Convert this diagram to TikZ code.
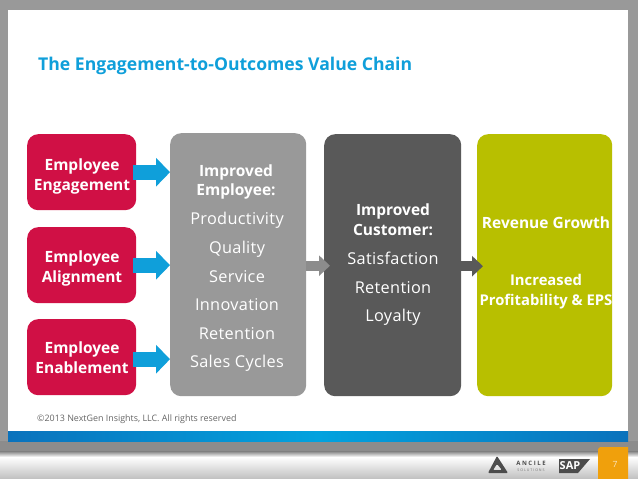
\documentclass[tikz,border=0pt]{standalone}
\usepackage{fontspec}
\setmainfont{Open Sans}
\usetikzlibrary{arrows.meta,calc}
\definecolor{cred}{HTML}{D01045}
\definecolor{cblue}{HTML}{0F9FDA}
\definecolor{cgray}{HTML}{999999}
\definecolor{cdark}{HTML}{595959}
\definecolor{colive}{HTML}{B8BF00}
\definecolor{corange}{HTML}{F0A00C}
\definecolor{bandl}{HTML}{0A72BC}
\definecolor{bandm}{HTML}{02A2DE}
\tikzset{
  x=1pt,y=-1pt,
  box/.style={rounded corners=11pt,minimum width=#1,inner sep=0pt,anchor=north west},
  redbox/.style={box=109pt,fill=cred,minimum height=76pt},
  bigbox/.style={box=136pt,minimum height=263pt},
  line/.style={text=white,inner sep=0pt,anchor=base,font=\fontsize{16.3}{18}\selectfont\addfontfeature{LetterSpace=2}},
  head/.style={text=white,inner sep=0pt,anchor=base,font=\fontsize{15.5}{20}\selectfont\bfseries},
  fatarrow/.style={draw=cblue,line width=15pt,-{Triangle[length=14pt,width=28pt]}},
  thinarrow/.style={draw=#1,line width=10pt,-{Triangle[length=11pt,width=20pt]}},
}
\begin{document}
\begin{tikzpicture}
\useasboundingbox (0,0) rectangle (638,479);
% backdrop
\fill[cgray] (0,0) rectangle (638,451);
\fill[black!45] (0,441) rectangle (638,451);
\fill[white] (8,10) rectangle (628,431);
\shade[left color=bandl,right color=bandl,middle color=bandm] (8,431) rectangle (628,441);
\shade[top color=black!50,bottom color=white] (0,451) rectangle (638,457);
\shade[top color=white,bottom color=black!25] (0,457) rectangle (638,479);
% title
\node[anchor=base west,inner sep=0pt,text=cblue,font=\fontsize{17.6}{20}\selectfont\bfseries] (title) at (38,70) {The Engagement-to-Outcomes Value Chain};
% boxes
\node[redbox] (e1) at (27,134) {};
\node[redbox] (e2) at (27,227) {};
\node[redbox] (e3) at (27,319) {};
\node[bigbox,fill=cgray] (g) at (170,133) {};
\node[bigbox,fill=cdark,minimum width=137pt,minimum height=262pt] (d) at (324,134) {};
\node[bigbox,fill=colive,minimum width=135pt,minimum height=262pt] (o) at (477,134) {};
% red box text
\node[head] (e1a) at (82,170) {Employee};
\node[head] (e1b) at (82,190) {Engagement};
\node[head] (e2a) at (82,262) {Employee};
\node[head] (e2b) at (82,282) {Alignment};
\node[head] (e3a) at (82,353) {Employee};
\node[head] (e3b) at (82,373) {Enablement};
% gray box text
\node[head] (g0a) at (236,176) {Improved};
\node[head] (g0b) at (236,195) {Employee:};
\node[line] (g1) at (237,224) {Productivity};
\node[line] (g2) at (237,253) {Quality};
\node[line] (g3) at (237,282) {Service};
\node[line] (g4) at (237,310) {Innovation};
\node[line] (g5) at (237,339) {Retention};
\node[line] (g6) at (237,367) {Sales Cycles};
% dark box text
\node[head] (d0a) at (393,215) {Improved};
\node[head] (d0b) at (393,235) {Customer:};
\node[line] (d1) at (393,264) {Satisfaction};
\node[line] (d2) at (393,293) {Retention};
\node[line] (d3) at (393,321) {Loyalty};
% olive box text
\node[head] (o1) at (546,228) {Revenue Growth};
\node[head,font=\fontsize{14.8}{20}\selectfont\bfseries] (o2a) at (546,285) {Increased};
\node[head,font=\fontsize{14.8}{20}\selectfont\bfseries] (o2b) at (546,305) {Profitability \& EPS};
% connectors
\draw[fatarrow] ([xshift=-3pt]e1.east) -- (e1.east -| g.west);
\draw[fatarrow] ([xshift=-3pt]e2.east) -- (e2.east -| g.west);
\draw[fatarrow] ([xshift=-3pt,yshift=-2pt]e3.east) -- ([yshift=-2pt]e3.east -| g.west);
\draw[thinarrow=black!45] ([yshift=-1pt]g.east) -- ([xshift=6pt,yshift=-1pt]g.east -| d.west);
\draw[thinarrow=cdark] ([yshift=-1pt]d.east) -- ([xshift=6pt,yshift=-1pt]d.east -| o.west);
% footer
\node[anchor=base west,inner sep=0pt,text=black!60,font=\fontsize{8.9}{10}\selectfont] (copy) at (37,421) {©2013 NextGen Insights, LLC. All rights reserved};
\fill[corange] (600,447) -- (628,447) -- (628,479) -- (598,479) -- (598,449) -- cycle;
\node[text=white!75!corange,inner sep=0pt,font=\fontsize{8.5}{10}\selectfont] (page) at (615,464) {7};
% logos
\fill[black!70,even odd rule,rounded corners=1pt] (497,456) -- (508,473) -- (488,473) -- cycle (497,464) -- (502,470) -- (493,470) -- cycle;
\node[inner sep=0pt,text=black!70,font=\fontsize{6}{6}\selectfont\bfseries] (anc) at (531,463) {A N C I L E};
\node[inner sep=0pt,text=black!55,font=\fontsize{3.6}{4}\selectfont] (sol) at (531,470) {S O L U T I O N S};
\fill[black!70] (559,459) -- (590,459) -- (578,473) -- (559,473) -- cycle;
\node[inner sep=0pt,text=white,font=\fontsize{11}{12}\selectfont\bfseries] (sap) at (570,466) {SAP};
\end{tikzpicture}
\end{document}
